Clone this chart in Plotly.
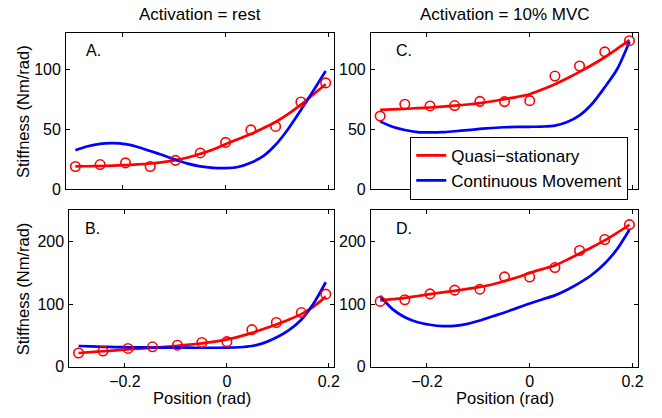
import plotly.graph_objects as go

# ---------------- data ----------------
POS_PTS = [-0.291, -0.243, -0.194, -0.146, -0.097, -0.049, 0.0, 0.049, 0.097, 0.146, 0.194]
POS_FIT = [-0.291, -0.267, -0.243, -0.218, -0.194, -0.170, -0.146, -0.121, -0.097, -0.073, -0.049,
           -0.024, 0.0, 0.024, 0.049, 0.073, 0.097, 0.121, 0.146, 0.170, 0.194]

# Panel A (rest, upper)
A_PTS = [18.9, 20.5, 21.9, 18.9, 24.0, 30.2, 39.0, 49.4, 52.3, 72.7, 88.6]
A_QS = [19.0, 19.1, 19.3, 19.6, 20.0, 20.6, 21.4, 22.6, 24.2, 26.4, 29.5,
        33.0, 37.5, 41.7, 46.0, 50.8, 56.0, 62.5, 70.5, 79.0, 87.5]
A_CM = [32.5, 35.8, 37.8, 38.3, 37.5, 35.2, 31.8, 28.2, 24.5, 21.3, 19.0,
        17.8, 17.5, 18.5, 22.0, 27.5, 37.0, 50.0, 66.0, 82.0, 98.5]

# Panel B (rest, lower)
B_PTS = [21.8, 24.9, 29.1, 31.7, 34.3, 38.7, 40.0, 59.2, 70.6, 86.5, 116.0]
B_QS = [21.8, 23.2, 24.6, 26.0, 27.5, 28.9, 30.3, 31.8, 33.4, 35.2, 37.3,
        40.0, 43.5, 48.0, 54.0, 60.5, 67.5, 75.0, 84.0, 96.0, 112.0]
B_CM = [33.0, 32.3, 31.7, 31.3, 31.0, 30.8, 30.6, 30.5, 30.4, 30.3, 30.2,
        30.2, 30.3, 31.0, 33.0, 38.0, 46.5, 58.0, 75.0, 101.0, 135.0]

# Panel C (10% MVC, upper)
C_PTS = [60.9, 70.8, 69.4, 69.7, 73.2, 73.0, 73.8, 94.3, 102.7, 114.5, 123.8]
C_QS = [66.1, 66.5, 67.0, 67.5, 68.1, 68.8, 69.6, 70.6, 71.8, 73.3, 75.1,
        77.0, 79.2, 83.0, 87.5, 92.5, 97.8, 103.5, 110.0, 117.0, 124.3]
C_CM = [56.5, 52.0, 49.3, 47.6, 47.3, 47.5, 48.3, 49.2, 50.2, 51.0, 51.6,
        51.9, 52.0, 52.2, 53.0, 56.0, 61.5, 71.0, 85.0, 100.0, 123.0]

# Panel D (10% MVC, lower)
D_PTS = [104.4, 107.0, 116.4, 122.4, 123.9, 143.6, 143.3, 158.5, 185.8, 203.4, 227.2]
D_QS = [106.0, 108.0, 110.0, 113.0, 116.0, 118.7, 121.3, 124.3, 127.6, 131.5, 137.0,
        143.0, 150.0, 156.0, 162.0, 171.0, 181.0, 191.0, 202.0, 214.0, 227.0]
D_CM = [113.0, 92.0, 79.0, 71.0, 67.0, 64.8, 65.3, 68.5, 73.8, 80.3, 86.5,
        94.0, 101.0, 107.5, 114.0, 123.0, 134.0, 147.0, 165.0, 188.0, 219.0]

COL_TITLES = ["Activation = rest", "Activation = 10% MVC"]
PANEL_LABELS = ["A.", "B.", "C.", "D."]
X_TICKS = [-0.2, 0, 0.2]
Y_TICKS_TOP = [0, 50, 100]
Y_TICKS_BOT = [0, 100, 200]
SERIES_NAMES = ["Quasi\u2212stationary", "Continuous Movement"]

# ---------------- style ----------------
W, H = 662, 418
FONT = "Liberation Sans, Arial, Helvetica, sans-serif"
FS = 16
RED = "#FF0000"
BLUE = "#0000FF"


def px_x(p):
    return p / W


def px_y(p):
    return 1 - p / H


# panel pixel boxes: left, right, top, bottom
BOXES = {
    "A": (66.7, 337.5, 34.0, 193.3),
    "B": (70.0, 337.5, 215.0, 374.7),
    "C": (374.3, 644.0, 34.0, 193.3),
    "D": (374.3, 644.0, 215.0, 374.7),
}

panels = [
    ("A", A_PTS, A_QS, A_CM, [0, 130], Y_TICKS_TOP, False, 0.068, 0.887),
    ("B", B_PTS, B_QS, B_CM, [0, 250], Y_TICKS_BOT, True, 0.050, 0.881),
    ("C", C_PTS, C_QS, C_CM, [0, 130], Y_TICKS_TOP, False, 0.087, 0.887),
    ("D", D_PTS, D_QS, D_CM, [0, 250], Y_TICKS_BOT, True, 0.087, 0.881),
]

fig = go.Figure()
annotations = []

for i, (key, pts, qs, cm, yr, yt, show_xlab, lx, ly) in enumerate(panels):
    n = i + 1
    xa = "x" if n == 1 else f"x{n}"
    ya = "y" if n == 1 else f"y{n}"
    xlay = "xaxis" if n == 1 else f"xaxis{n}"
    ylay = "yaxis" if n == 1 else f"yaxis{n}"
    l, r, t, b = BOXES[key]

    fig.add_trace(go.Scatter(
        x=POS_FIT, y=qs, xaxis=xa, yaxis=ya, mode="lines",
        line=dict(color=RED, width=2.7, shape="spline", smoothing=0.8),
        name=SERIES_NAMES[0], legendgroup="qs", showlegend=(key == "C"),
        hoverinfo="skip"))
    fig.add_trace(go.Scatter(
        x=POS_FIT, y=cm, xaxis=xa, yaxis=ya, mode="lines",
        line=dict(color=BLUE, width=2.7, shape="spline", smoothing=0.8),
        name=SERIES_NAMES[1], legendgroup="cm", showlegend=(key == "C"),
        hoverinfo="skip"))
    fig.add_trace(go.Scatter(
        x=POS_PTS, y=pts, xaxis=xa, yaxis=ya, mode="markers",
        marker=dict(symbol="circle-open", size=9.5, color=RED, line=dict(width=1.6, color=RED)),
        showlegend=False, hoverinfo="skip"))

    axis_common = dict(
        showline=True, linecolor="black", linewidth=1, mirror="ticks",
        ticks="inside", ticklen=4, tickwidth=1, tickcolor="black",
        showgrid=False, zeroline=False,
        tickfont=dict(family=FONT, size=FS, color="black"),
    )
    fig.update_layout(**{
        xlay: dict(domain=[px_x(l), px_x(r)], range=[-0.309, 0.211], tickvals=X_TICKS,
                   showticklabels=show_xlab, anchor=ya, ticklabelstandoff=0, **axis_common),
        ylay: dict(domain=[px_y(b), px_y(t)], range=yr, tickvals=yt,
                   anchor=xa, ticklabelstandoff=1, **axis_common),
    })

    annotations.append(dict(
        text=PANEL_LABELS[i], xref=f"{xa} domain", yref=f"{ya} domain",
        x=lx, y=ly, xanchor="left", yanchor="middle", showarrow=False,
        font=dict(family=FONT, size=FS, color="black")))

# column titles
for j, key in enumerate(["A", "C"]):
    l, r, t, b = BOXES[key]
    annotations.append(dict(
        text=COL_TITLES[j], xref="paper", yref="paper",
        x=px_x((l + r) / 2), y=px_y(15), xanchor="center", yanchor="middle",
        showarrow=False, font=dict(family=FONT, size=17, color="black")))

# y-axis titles
for key in ["A", "B"]:
    l, r, t, b = BOXES[key]
    annotations.append(dict(
        text="Stiffness (Nm/rad)", xref="paper", yref="paper", textangle=-90,
        x=px_x(23), y=px_y((t + b) / 2), xanchor="center", yanchor="middle",
        showarrow=False, font=dict(family=FONT, size=16.5, color="black")))

# x-axis titles
for key in ["B", "D"]:
    l, r, t, b = BOXES[key]
    annotations.append(dict(
        text="Position (rad)", xref="paper", yref="paper",
        x=px_x((l + r) / 2), y=px_y(407), xanchor="center", yanchor="middle",
        borderpad=0,
        showarrow=False, font=dict(family=FONT, size=16.5, color="black")))

fig.update_layout(
    width=W, height=H,
    margin=dict(l=0, r=0, t=0, b=0),
    paper_bgcolor="white", plot_bgcolor="white",
    annotations=annotations,
    showlegend=True,
    legend=dict(
        x=px_x(414), y=px_y(172), xanchor="left", yanchor="middle",
        bgcolor="white", bordercolor="black", borderwidth=1,
        font=dict(family=FONT, size=17, color="black"),
        itemwidth=30, tracegroupgap=0,
    ),
)

fig.write_html("out.html")
